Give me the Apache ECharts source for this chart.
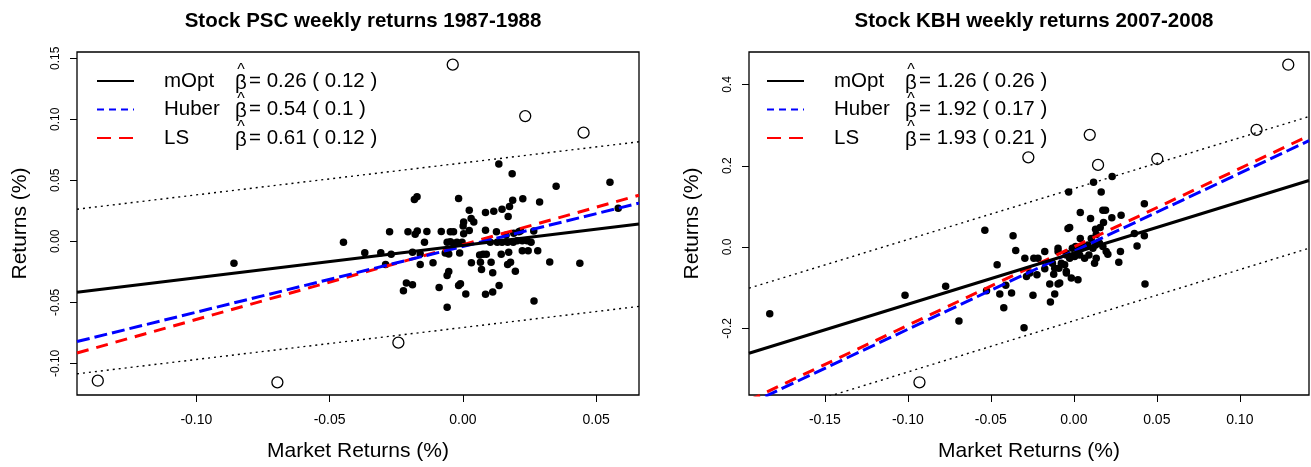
<!DOCTYPE html>
<html>
<head>
<meta charset="utf-8">
<script src="https://cdn.jsdelivr.net/npm/echarts@6/dist/echarts.min.js"></script>
<style>html,body{margin:0;padding:0;background:#fff}#c{width:1311px;height:467px}</style>
</head>
<body>
<div id="c"></div>
<script>
// ---------- data ----------
const titles = ['Stock PSC weekly returns 1987-1988', 'Stock KBH weekly returns 2007-2008'];
const methodNames = ['mOpt', 'Huber', 'LS'];
const betaTextPSC = ['0.26 ( 0.12 )', '0.54 ( 0.1 )', '0.61 ( 0.12 )'];
const betaTextKBH = ['1.26 ( 0.26 )', '1.92 ( 0.17 )', '1.93 ( 0.21 )'];

// axis ranges and ticks
const xRangePSC = [-0.1448, 0.0661];
const yRangePSC = [-0.1259, 0.1552];
const xRangeKBH = [-0.1957, 0.1417];
const yRangeKBH = [-0.3641, 0.4799];
const xTicksPSC = [-0.10, -0.05, 0.00, 0.05];
const yTicksPSC = [-0.10, -0.05, 0.00, 0.05, 0.10, 0.15];
const xTicksKBH = [-0.15, -0.10, -0.05, 0.00, 0.05, 0.10];
const yTicksKBH = [-0.2, 0.0, 0.2, 0.4];

// fitted lines: mOpt, Huber, LS (intercept, slope)
const interceptsPSC = [-0.0033, -0.0042, -0.0027];
const slopesPSC = [0.265, 0.538, 0.613];
const interceptsKBH = [-0.0147, -0.0104, 0.0004];
const slopesKBH = [1.26, 1.92, 1.93];
// dotted bands: upper, lower (intercept, slope)
const bandInterceptsPSC = [0.0643, -0.0706];
const bandSlopesPSC = [0.262, 0.262];
const bandInterceptsKBH = [0.1437, -0.1815];
const bandSlopesKBH = [1.252, 1.26];

// weekly returns (market, stock)
const pointsPSC = [
[-0.0859,-0.0179],[-0.0448,-0.0008],[-0.0368,-0.0093],[-0.0308,-0.0093],[-0.0275,0.0078],
[-0.0269,-0.0106],[-0.0290,-0.0190],[-0.0206,0.0078],[-0.0212,-0.0342],[-0.0223,-0.0404],
[0.0135,0.0634],[0.0185,0.0555],[-0.0182,0.0344],[-0.0172,0.0366],[-0.0016,0.0352],
[0.0024,0.0255],[0.0085,0.0236],[0.0116,0.0246],[0.0147,0.0263],[0.0175,0.0285],
[0.0170,0.0203],[0.0187,0.0338],[0.0031,0.0187],[0.0041,0.0159],[0.0003,0.0159],
[0.0001,0.0127],[0.0003,0.0062],[0.0024,0.0089],[-0.0179,0.0059],[-0.0171,0.0086],
[-0.0135,0.0081],[-0.0081,0.0081],[-0.0047,0.0078],[-0.0035,0.0078],[0.0085,0.0092],
[0.0126,0.0078],[0.0162,0.0051],[0.0191,0.0067],[0.0210,0.0078],[-0.0144,-0.0008],
[-0.0059,-0.0008],[-0.0047,-0.0003],[-0.0035,-0.0016],[-0.0022,-0.0008],[-0.0003,-0.0008],
[0.0103,-0.0008],[0.0129,-0.0008],[0.0147,-0.0008],[0.0168,-0.0008],[0.0189,-0.0008],
[-0.0189,-0.0089],[-0.0160,-0.0103],[-0.0066,-0.0095],[-0.0053,-0.0103],[-0.0012,-0.0095],
[-0.0160,-0.0190],[-0.0112,-0.0176],[0.0032,-0.0176],[0.0063,-0.0111],[0.0076,-0.0106],
[0.0088,-0.0106],[0.0066,-0.0171],[0.0070,-0.0231],[0.0106,-0.0171],[0.0112,-0.0258],
[0.0144,-0.0106],[0.0172,-0.0089],[0.0168,-0.0190],[0.0179,-0.0171],[0.0197,-0.0244],
[-0.0059,-0.0280],[-0.0053,-0.0247],[-0.0189,-0.0355],[-0.0089,-0.0377],[-0.0016,-0.0361],
[-0.0009,-0.0347],[0.0011,-0.0431],[0.0085,-0.0434],[0.0112,-0.0415],[0.0136,-0.0361],
[-0.0059,-0.0540],[0.0350,0.0452],[0.0552,0.0485],[0.0225,0.0350],[0.0288,0.0322],
[0.0583,0.0271],[0.0216,0.0086],[0.0266,0.0086],[0.0204,0.0005],[0.0223,0.0005],
[0.0241,0.0005],[0.0256,-0.0008],[0.0223,-0.0076],[0.0245,-0.0076],[0.0281,-0.0076],
[0.0326,-0.0168],[0.0439,-0.0179],[0.0267,-0.0488]
];
const outliersPSC = [[-0.0038,0.1448],[0.0234,0.1027],[0.0453,0.0891],[-0.0242,-0.0830],[-0.1370,-0.1142],[-0.0696,-0.1155]];

const pointsKBH = [
[-0.1832,-0.1643],[-0.1017,-0.1187],[-0.0772,-0.0967],[-0.0692,-0.1822],[-0.0536,0.0415],
[-0.0526,-0.1074],[-0.0462,-0.0439],[-0.0446,-0.1155],[-0.0422,-0.1497],[-0.0410,-0.0943],
[-0.0375,-0.1131],[-0.0366,0.0278],[-0.0350,-0.0088],[-0.0300,-0.1985],[-0.0295,-0.0276],
[-0.0265,-0.0642],[-0.0285,-0.0723],[-0.0222,-0.0684],[-0.0246,-0.1187],[-0.0241,-0.0276],
[-0.0216,-0.0276],[-0.0175,-0.0112],[-0.0175,-0.0537],[-0.0129,-0.0398],[-0.0115,-0.0520],
[-0.0090,-0.0520],[-0.0075,-0.0398],[-0.0121,-0.0667],[-0.0145,-0.0911],[-0.0095,-0.0911],
[-0.0045,-0.0642],[-0.0115,-0.1155],[-0.0141,-0.1350],[-0.0095,-0.0112],[-0.0045,-0.0195],
[-0.0035,0.0457],[-0.0025,0.0481],[-0.0031,0.1353],[0.0119,0.1597],[0.0231,0.1734],
[0.0165,0.1353],[0.0425,0.1067],[0.0039,0.0847],[0.0101,0.0701],[0.0175,0.0904],
[0.0191,0.0904],[0.0229,0.0718],[0.0285,0.0781],[0.0131,0.0440],[0.0159,0.0481],
[0.0179,0.0603],[0.0135,0.0310],[0.0039,0.0212],[0.0365,0.0335],[0.0425,0.0278],
[0.0381,0.0024],[0.0105,0.0212],[-0.0095,-0.0032],[-0.0045,-0.0154],[-0.0009,-0.0032],
[0.0011,0.0010],[0.0025,-0.0073],[0.0045,-0.0032],[0.0065,0.0010],[0.0085,0.0049],
[0.0115,-0.0032],[0.0131,0.0049],[0.0155,0.0090],[0.0175,0.0010],[0.0195,-0.0112],
[0.0205,-0.0178],[-0.0025,-0.0276],[0.0005,-0.0234],[0.0035,-0.0195],[0.0065,-0.0276],
[0.0091,-0.0195],[0.0125,-0.0398],[0.0135,-0.0276],[0.0281,-0.0112],[0.0271,-0.0374],
[-0.0055,-0.0439],[-0.0045,-0.0601],[-0.0015,-0.0764],[0.0025,-0.0806],[-0.0085,-0.0886],
[0.0429,-0.0911]
];
const outliersKBH = [[0.1292,0.4486],[0.0096,0.2760],[-0.0274,0.2207],[0.0146,0.2020],[0.0503,0.2166],[0.1101,0.2882],[-0.0930,-0.3328]];

// ---------- chart ----------
const FONT = 'Liberation Sans, Arial, Helvetica, sans-serif';
const lineColors = ['#000000', '#0000ff', '#ff0000'];
const lineTypes = ['solid', [13, 5], [12, 8]];
const lineWidths = [3, 3, 3];

const grids = [
  {left: 77, top: 52, width: 562, height: 345},
  {left: 749, top: 52, width: 560, height: 345}
];

function fmt(d) { return v => v.toFixed(d); }

function xAxis(i, range, ticks) {
  return {
    gridIndex: i, type: 'value', min: range[0], max: range[1],
    axisLine: {show: false, onZero: false}, splitLine: {show: false},
    axisTick: {show: true, inside: false, length: 7, lineStyle: {color: '#000', width: 1}, customValues: ticks},
    axisLabel: {customValues: ticks, formatter: fmt(2), fontSize: 14, color: '#000', fontFamily: FONT, margin: 18},
    name: 'Market Returns (%)', nameLocation: 'middle', nameGap: 46,
    nameTextStyle: {fontSize: 21, color: '#000', fontFamily: FONT}
  };
}
function yAxis(i, range, ticks, dec) {
  return {
    gridIndex: i, type: 'value', min: range[0], max: range[1],
    axisLine: {show: false, onZero: false}, splitLine: {show: false},
    axisTick: {show: true, inside: false, length: 7, lineStyle: {color: '#000', width: 1}, customValues: ticks},
    axisLabel: {customValues: ticks, formatter: fmt(dec), fontSize: 12, color: '#000', fontFamily: FONT,
      margin: 15, rotate: 90, align: 'center', verticalAlign: 'bottom'},
    name: 'Returns (%)', nameLocation: 'middle', nameGap: 46,
    nameTextStyle: {fontSize: 21, color: '#000', fontFamily: FONT}
  };
}

function lineSeries(i, xr, a, b, color, type, width, z) {
  return {
    type: 'line', xAxisIndex: i, yAxisIndex: i, showSymbol: false, symbol: 'none', clip: true,
    data: [[xr[0], a + b * xr[0]], [xr[1], a + b * xr[1]]],
    lineStyle: {color: color, type: type, width: width}, z: z, silent: true, animation: false
  };
}

function panelSeries(i, pts, outs, xr, ints, slopes, bInts, bSlopes) {
  const s = [];
  s.push({type: 'scatter', xAxisIndex: i, yAxisIndex: i, data: pts, symbol: 'circle', symbolSize: 7.5,
    itemStyle: {color: '#000', opacity: 1}, z: 2, animation: false});
  s.push({type: 'scatter', xAxisIndex: i, yAxisIndex: i, data: outs, symbol: 'circle', symbolSize: 11,
    itemStyle: {color: 'rgba(255,255,255,0)', borderColor: '#000', borderWidth: 1.3, opacity: 1}, z: 2, animation: false});
  for (let k = 0; k < 2; k++) s.push(lineSeries(i, xr, bInts[k], bSlopes[k], '#000', [2, 4], 1.4, 3));
  for (let k = 2; k >= 0; k--) s.push(lineSeries(i, xr, ints[k], slopes[k], lineColors[k], lineTypes[k], lineWidths[k], 4 + (2 - k)));
  return s;
}

function legendGraphics(x0, betaTexts) {
  const g = [];
  const rows = [81, 109.5, 138];
  const fs = 20.5;
  for (let k = 0; k < 3; k++) {
    const y = rows[k];
    g.push({type: 'line', shape: {x1: x0, y1: y, x2: x0 + 37, y2: y},
      style: {stroke: lineColors[k], lineWidth: 1.8, lineDash: k === 0 ? null : (k === 1 ? [7, 5] : [14, 8])}});
    g.push({type: 'text', x: x0 + 67, y: y, style: {text: methodNames[k], fontSize: fs, fontFamily: FONT, fill: '#000', textVerticalAlign: 'middle', textAlign: 'left'}});
    g.push({type: 'text', x: x0 + 138, y: y + 2, style: {text: 'β', fontSize: fs, fontFamily: FONT, fill: '#000', textVerticalAlign: 'middle', textAlign: 'left'}});
    g.push({type: 'text', x: x0 + 144, y: y - 10, style: {text: '^', fontSize: 16, fontFamily: FONT, fill: '#000', textVerticalAlign: 'middle', textAlign: 'center'}});
    g.push({type: 'text', x: x0 + 152, y: y, style: {text: '= ' + betaTexts[k], fontSize: fs, fontFamily: FONT, fill: '#000', textVerticalAlign: 'middle', textAlign: 'left'}});
  }
  return g;
}

const chart = echarts.init(document.getElementById('c'), null, {renderer: 'canvas'});
chart.setOption({
  animation: false,
  backgroundColor: '#fff',
  title: [
    {text: titles[0], left: 358, top: 6, textAlign: 'center', textStyle: {fontSize: 20.5, fontWeight: 'bold', color: '#000', fontFamily: FONT}},
    {text: titles[1], left: 1029, top: 6, textAlign: 'center', textStyle: {fontSize: 20.5, fontWeight: 'bold', color: '#000', fontFamily: FONT}}
  ],
  grid: grids.map(g => Object.assign({show: true, borderColor: '#000', borderWidth: 1.3, backgroundColor: 'transparent'}, g)),
  xAxis: [xAxis(0, xRangePSC, xTicksPSC), xAxis(1, xRangeKBH, xTicksKBH)],
  yAxis: [yAxis(0, yRangePSC, yTicksPSC, 2), yAxis(1, yRangeKBH, yTicksKBH, 1)],
  series: [].concat(
    panelSeries(0, pointsPSC, outliersPSC, xRangePSC, interceptsPSC, slopesPSC, bandInterceptsPSC, bandSlopesPSC),
    panelSeries(1, pointsKBH, outliersKBH, xRangeKBH, interceptsKBH, slopesKBH, bandInterceptsKBH, bandSlopesKBH)
  ),
  graphic: legendGraphics(97, betaTextPSC).concat(legendGraphics(767, betaTextKBH))
});
</script>
</body>
</html>
